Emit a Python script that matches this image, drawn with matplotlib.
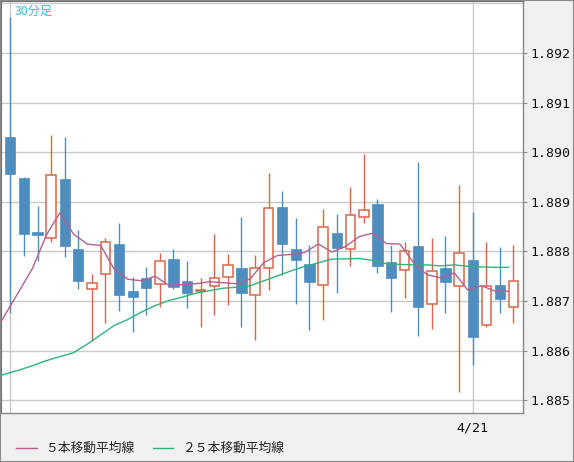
import numpy as np
import matplotlib
matplotlib.use('Agg')
from matplotlib import pyplot as plt
from matplotlib.lines import Line2D
from matplotlib.patches import Rectangle

# 30 minute candles
opens = [1.89031, 1.88948, 1.88839, 1.88827, 1.88946, 1.88805, 1.88724, 1.88754, 1.88815, 1.88720,
         1.88747, 1.88734, 1.88785, 1.88741, 1.88720, 1.88730, 1.88748, 1.88767, 1.88712, 1.88766,
         1.88890, 1.88805, 1.88775, 1.88732, 1.88837, 1.88806, 1.88870, 1.88896, 1.88778, 1.88762,
         1.88811, 1.88694, 1.88767, 1.88730, 1.88783, 1.88651, 1.88732, 1.88688]
closes = [1.88956, 1.88836, 1.88834, 1.88954, 1.88812, 1.88741, 1.88736, 1.88819, 1.88713, 1.88709,
          1.88727, 1.88781, 1.88729, 1.88717, 1.88722, 1.88746, 1.88772, 1.88717, 1.88766, 1.88887,
          1.88816, 1.88783, 1.88739, 1.88849, 1.88808, 1.88873, 1.88883, 1.88771, 1.88747, 1.88800,
          1.88689, 1.88760, 1.88739, 1.88796, 1.88628, 1.88730, 1.88705, 1.88740]
highs = [1.89272, 1.88951, 1.88892, 1.89035, 1.89031, 1.88843, 1.88755, 1.88828, 1.88857, 1.88749,
         1.88769, 1.88797, 1.88805, 1.88781, 1.88747, 1.88835, 1.88795, 1.88870, 1.88793, 1.88958,
         1.88922, 1.88868, 1.88813, 1.88886, 1.88876, 1.88930, 1.88997, 1.88906, 1.88813, 1.88819,
         1.88980, 1.88827, 1.88831, 1.88934, 1.88880, 1.88819, 1.88809, 1.88813]
lows = [1.88677, 1.88790, 1.88781, 1.88820, 1.88788, 1.88724, 1.88620, 1.88656, 1.88681, 1.88638,
        1.88671, 1.88688, 1.88725, 1.88687, 1.88648, 1.88671, 1.88693, 1.88648, 1.88622, 1.88722,
        1.88753, 1.88695, 1.88642, 1.88662, 1.88717, 1.88771, 1.88857, 1.88757, 1.88679, 1.88707,
        1.88630, 1.88644, 1.88675, 1.88517, 1.88572, 1.88648, 1.88675, 1.88656]

# moving averages as drawn (first value belongs to the bar before the window)
ma5 = [1.88628, 1.88674, 1.88720, 1.88767, 1.88833, 1.88878, 1.88835, 1.88815, 1.88812, 1.88764,
       1.88744, 1.88741, 1.88750, 1.88732, 1.88733, 1.88735, 1.88739, 1.88737, 1.88735, 1.88745,
       1.88778, 1.88792, 1.88794, 1.88798, 1.88815, 1.88799, 1.88810, 1.88830, 1.88837, 1.88816,
       1.88815, 1.88778, 1.88753, 1.88747, 1.88757, 1.88722, 1.88731, 1.88720, 1.88720]
ma25 = [1.88546, 1.88553, 1.88561, 1.88570, 1.88580, 1.88588, 1.88596, 1.88613, 1.88632, 1.88651,
        1.88663, 1.88678, 1.88691, 1.88701, 1.88708, 1.88716, 1.88721, 1.88726, 1.88728, 1.88731,
        1.88741, 1.88751, 1.88761, 1.88770, 1.88777, 1.88785, 1.88785, 1.88786, 1.88782, 1.88775,
        1.88774, 1.88773, 1.88773, 1.88771, 1.88773, 1.88770, 1.88769, 1.88768, 1.88768]

price_ticks = [1.885, 1.886, 1.887, 1.888, 1.889, 1.890, 1.891, 1.892]
date_ticks = [0, 34]
date_labels = ['', '4/21']
legend_labels = ['５本移動平均線', '２５本移動平均線']

BLUE = '#4e8dc0'
RED = '#d9664a'
C_MA5 = '#b5608f'
C_MA25 = '#2db47c'
GRID = '#c8c8c8'

fig = plt.figure(figsize=(5.74, 4.62), dpi=100, facecolor='#f0f0f0')
ax = fig.add_axes([1 / 574, 1 - 413 / 462, 522 / 574, 412 / 462])
ax.set_facecolor('white')

x = np.arange(len(opens))
o = np.array(opens)
c = np.array(closes)
up = c >= o
colors = np.where(up, RED, BLUE)

# wicks
ax.vlines(x, lows, highs, colors=colors, linewidth=1.0, zorder=3)
# bodies
body_w = 0.74
bottom = np.minimum(o, c)
height = np.maximum(np.abs(c - o), 0.00001)
ax.bar(x[~up], height[~up], body_w, bottom=bottom[~up], color=BLUE, edgecolor=BLUE,
       linewidth=0.5, zorder=4)
ax.bar(x[up], height[up], body_w - 0.06, bottom=bottom[up], color='white', edgecolor=RED,
       linewidth=1.1, zorder=4)

# moving averages, drawn a little left of the bar centre
xm = np.arange(-1, len(opens)) - 0.35
ax.plot(xm, ma25, color=C_MA25, linewidth=1.0, zorder=5)
ax.plot(xm, ma5, color=C_MA5, linewidth=1.0, zorder=5)

ax.set_xlim(-0.684, 37.70)
ax.set_ylim(1.884744, 1.893050)

ax.set_yticks(price_ticks)
ax.set_yticklabels(['%.3f' % p for p in price_ticks], family='DejaVu Sans Mono', fontsize=9.5)
ax.yaxis.tick_right()
ax.tick_params(axis='y', length=3, pad=2, color='#888888', labelcolor='#111111')
ax.set_xticks(date_ticks)
ax.set_xticklabels(date_labels, family='DejaVu Sans Mono', fontsize=9.5)
ax.tick_params(axis='x', length=0, pad=6, labelcolor='#111111')

ax.grid(True, color=GRID, linewidth=1.0, zorder=0)
ax.axhline(1.893, color=GRID, linewidth=1.0, zorder=0)
ax.set_axisbelow(True)

for side in ['left', 'top']:
    ax.spines[side].set_color('#6e6e6e')
    ax.spines[side].set_linewidth(1.5)
for side in ['right', 'bottom']:
    ax.spines[side].set_color('#888888')
    ax.spines[side].set_linewidth(1.0)

ax.text(14 / 522, 1 - 10 / 412, '30分足', transform=ax.transAxes, ha='left', va='center',
        color='#3bb8e8', fontsize=8.8, family=['Noto Sans CJK JP', 'DejaVu Sans'], zorder=6)

# legend along the bottom
jp = ['Noto Sans CJK JP', 'DejaVu Sans']
ly = 1 - 448 / 462
fig.add_artist(Line2D([16 / 574, 37 / 574], [ly, ly], color=C_MA5, linewidth=1.0))
fig.text(45 / 574, ly, legend_labels[0], ha='left', va='center', fontsize=9.2, family=jp, color='#222222')
fig.add_artist(Line2D([153 / 574, 173 / 574], [ly, ly], color=C_MA25, linewidth=1.0))
fig.text(182 / 574, ly, legend_labels[1], ha='left', va='center', fontsize=9.2, family=jp, color='#222222')

fig.add_artist(Rectangle((0, 0), 1, 1, transform=fig.transFigure, fill=False,
                         edgecolor='#8a8a8a', linewidth=1.5))

fig.savefig('out.png', dpi=100, facecolor=fig.get_facecolor())
